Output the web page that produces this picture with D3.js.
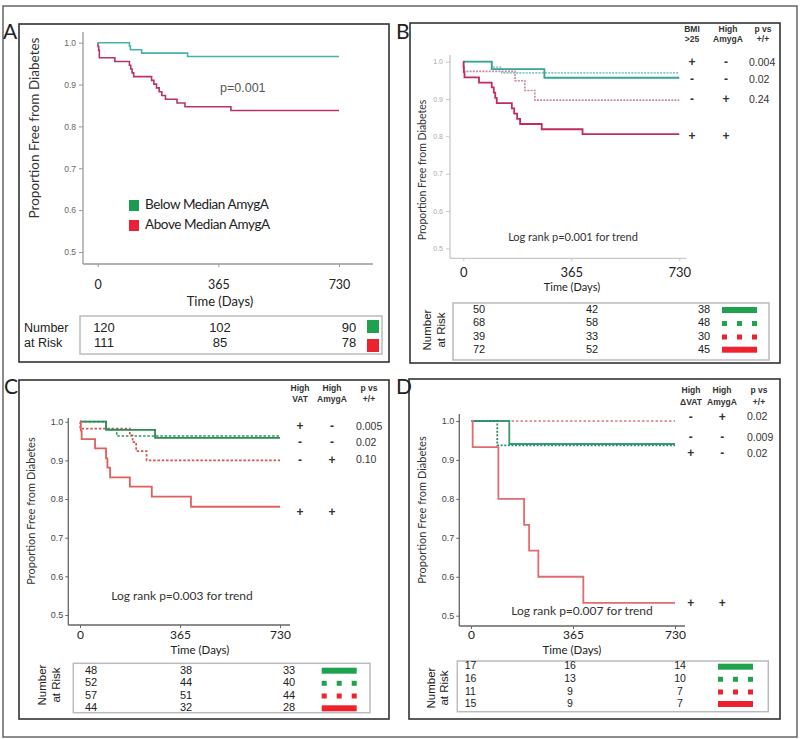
<!DOCTYPE html>
<html>
<head>
<meta charset="utf-8">
<script src="https://cdn.jsdelivr.net/npm/d3@7/dist/d3.min.js"></script>
<style>
  html, body { margin: 0; padding: 0; background: #fff; }
  svg { display: block; }
</style>
</head>
<body>
<script>
// ---------------- DATA ----------------
const timeTickValues = [0, 365, 730];
const survTickValues = [0.5, 0.6, 0.7, 0.8, 0.9, 1.0];

// Panel A
const aBelowDays = [0, 96, 99, 133, 272, 730];
const aBelowSurv = [1.0, 0.992, 0.983, 0.975, 0.967, 0.967];
const aAboveDays = [0, 1, 3, 5, 52, 96, 100, 104, 109, 163, 170, 178, 186, 194, 205, 240, 264, 403, 730];
const aAboveSurv = [1.0, 0.991, 0.982, 0.964, 0.955, 0.946, 0.937, 0.928, 0.919, 0.910, 0.901, 0.892, 0.883, 0.874, 0.865, 0.856, 0.847, 0.838, 0.838];
const aLegendLabels = ["Below Median AmygA", "Above Median AmygA"];
const aRiskBelow = [120, 102, 90];
const aRiskAbove = [111, 85, 78];
const aPText = "p=0.001";

// Panel B (BMI>25 / High AmygA)
const bHeaders = [["BMI", ">25"], ["High", "AmygA"], ["p vs", "+/+"]];
const bRows = [["+", "-", "0.004"], ["-", "-", "0.02"], ["-", "+", "0.24"], ["+", "+", ""]];
const bPosNegDays = [0, 96, 274, 730];
const bPosNegSurv = [1.0, 0.98, 0.957, 0.957];
const bNegNegDays = [0, 98, 130, 730];
const bNegNegSurv = [1.0, 0.985, 0.970, 0.970];
const bNegPosDays = [0, 1, 175, 208, 242, 730];
const bNegPosSurv = [1.0, 0.974, 0.949, 0.923, 0.897, 0.897];
const bPosPosDays = [0, 1, 2, 4, 53, 96, 103, 108, 113, 164, 172, 182, 192, 265, 403, 730];
const bPosPosSurv = [1.0, 0.986, 0.972, 0.958, 0.944, 0.931, 0.917, 0.903, 0.889, 0.875, 0.861, 0.847, 0.833, 0.819, 0.806, 0.806];
const bRisk = [[50, 42, 38], [68, 58, 48], [39, 33, 30], [72, 52, 45]];
const bLogRank = "Log rank p=0.001 for trend";

// Panel C (High VAT / High AmygA)
const cHeaders = [["High", "VAT"], ["High", "AmygA"], ["p vs", "+/+"]];
const cRows = [["+", "-", "0.005"], ["-", "-", "0.02"], ["-", "+", "0.10"], ["+", "+", ""]];
const cPosNegDays = [0, 95, 274, 730];
const cPosNegSurv = [1.0, 0.979, 0.958, 0.958];
const cNegNegDays = [0, 95, 134, 730];
const cNegNegSurv = [1.0, 0.981, 0.963, 0.963];
const cNegPosDays = [0, 1, 182, 192, 205, 243, 730];
const cNegPosSurv = [1.0, 0.982, 0.965, 0.947, 0.924, 0.900, 0.900];
const cPosPosDays = [0, 3, 6, 55, 95, 100, 110, 182, 262, 405, 730];
const cPosPosSurv = [1.0, 0.977, 0.955, 0.931, 0.905, 0.881, 0.856, 0.832, 0.806, 0.780, 0.780];
const cRisk = [[48, 38, 33], [52, 44, 40], [57, 51, 44], [44, 32, 28]];
const cLogRank = "Log rank p=0.003 for trend";

// Panel D (High ΔVAT / High AmygA)
const dHeaders = [["High", "\u0394VAT"], ["High", "AmygA"], ["p vs", "+/+"]];
const dRows = [["-", "+", "0.02"], ["-", "-", "0.009"], ["+", "-", "0.02"], ["+", "+", ""]];
const dNegPosDays = [0, 730];
const dNegPosSurv = [1.0, 1.0];
const dNegNegDays = [0, 137, 730];
const dNegNegSurv = [1.0, 0.941, 0.941];
const dPosNegDays = [0, 94, 730];
const dPosNegSurv = [1.0, 0.9375, 0.9375];
const dPosPosDays = [0, 6, 98, 190, 208, 241, 402, 730];
const dPosPosSurv = [1.0, 0.933, 0.800, 0.733, 0.667, 0.600, 0.533, 0.533];
const dRisk = [[17, 16, 14], [16, 13, 10], [11, 9, 7], [15, 9, 7]];
const dLogRank = "Log rank p=0.007 for trend";

const axisTitleX = "Time (Days)";
const axisTitleY = "Proportion Free from Diabetes";
const riskTitle = ["Number", "at Risk"];

// ---------------- DRAW ----------------
const SANS = "'Liberation Sans', Arial, sans-serif";
const CAL = "Lato, 'Open Sans', sans-serif";
const GREEN_ICON = "#1fa24e", RED_ICON = "#ee222c";

const svg = d3.select("body").append("svg").attr("width", 800).attr("height", 739);
svg.append("rect").attr("width", 800).attr("height", 739).attr("fill", "#fff");
svg.append("rect").attr("x", 3).attr("y", 6).attr("width", 794).attr("height", 731)
  .attr("fill", "none").attr("stroke", "#666").attr("stroke-width", 1.5);

function zip(days, surv) { return days.map((d, i) => [d, surv[i]]); }

function drawPanel(p) {
  const g = svg.append("g");
  g.append("rect").attr("x", p.frame[0]).attr("y", p.frame[1]).attr("width", p.frame[2]).attr("height", p.frame[3])
    .attr("fill", "none").attr("stroke", "#333").attr("stroke-width", 1.6);
  g.append("text").attr("x", p.letter[0]).attr("y", p.letter[1]).text(p.label)
    .attr("font-family", CAL).attr("font-size", 21).attr("fill", "#222");

  const x = d3.scaleLinear().domain([0, 730]).range([p.x0, p.x1]);
  const y = d3.scaleLinear().domain([0.5, 1.0]).range([p.yLo, p.yHi]);

  g.append("line").attr("x1", p.axX).attr("x2", p.axX).attr("y1", p.axTop).attr("y2", p.axY)
    .attr("stroke", p.axColor).attr("stroke-width", 1.3);
  g.append("line").attr("x1", p.axX).attr("x2", p.axRight).attr("y1", p.axY).attr("y2", p.axY)
    .attr("stroke", p.axColor).attr("stroke-width", 1.3);

  const ya = g.append("g").attr("transform", `translate(${p.axX},0)`)
    .call(d3.axisLeft(y).tickValues(survTickValues).tickFormat(d3.format(".1f")).tickSize(p.yTickSize).tickPadding(p.yTickPad));
  ya.select(".domain").remove();
  ya.selectAll("line").attr("stroke", p.axColor);
  ya.selectAll("text").attr("font-family", SANS).attr("font-size", p.yTickFont).attr("fill", p.yTickColor);

  const xa = g.append("g").attr("transform", `translate(0,${p.axY})`)
    .call(d3.axisBottom(x).tickValues(timeTickValues).tickSize(3).tickPadding(p.xTickPad));
  xa.select(".domain").remove();
  xa.selectAll("line").attr("stroke", p.axColor);
  xa.selectAll("text").attr("font-family", CAL).attr("font-size", p.xTickFont).attr("fill", "#222");

  g.append("text").attr("x", p.xTitle[0]).attr("y", p.xTitle[1]).attr("text-anchor", "middle")
    .attr("dominant-baseline", "middle").attr("font-family", CAL).attr("font-size", p.xTitleFont)
    .attr("fill", "#222").text(axisTitleX);
  g.append("text").attr("transform", `translate(${p.yTitle[0]},${p.yTitle[1]}) rotate(-90)`)
    .attr("text-anchor", "middle").attr("dominant-baseline", "middle").attr("font-family", CAL)
    .attr("font-size", p.yTitleFont).attr("fill", "#333").text(axisTitleY);

  const line = d3.line().x(d => x(d[0])).y(d => y(d[1])).curve(d3.curveStepAfter);
  p.series.forEach(s => {
    g.append("path").attr("d", line(s.data)).attr("fill", "none").attr("stroke", s.color)
      .attr("stroke-width", s.width).attr("stroke-dasharray", s.dash || null);
  });

  g.append("rect").attr("x", p.riskBox[0]).attr("y", p.riskBox[1]).attr("width", p.riskBox[2]).attr("height", p.riskBox[3])
    .attr("fill", "none").attr("stroke", "#bbb").attr("stroke-width", 1.5);
  p.risk.forEach((row, i) => {
    row.forEach((v, j) => {
      g.append("text").attr("x", p.riskCols[j]).attr("y", p.riskRows[i]).attr("text-anchor", "middle")
        .attr("dominant-baseline", "middle").attr("font-family", SANS).attr("font-size", p.riskFont)
        .attr("fill", "#222").text(v);
    });
  });
  return { g, x, y };
}

function drawHeader(g, p) {
  p.headers.forEach((h, j) => {
    h.forEach((t, k) => {
      g.append("text").attr("x", p.hCols[j]).attr("y", p.hRows[k]).attr("text-anchor", "middle")
        .attr("dominant-baseline", "middle").attr("font-family", SANS).attr("font-size", 8.5)
        .attr("font-weight", "bold").attr("fill", "#333").text(t);
    });
  });
  p.rows.forEach((r, i) => {
    [0, 1].forEach(j => {
      g.append("text").attr("x", p.sCols[j]).attr("y", p.sRows[i]).attr("text-anchor", "middle")
        .attr("dominant-baseline", "middle").attr("font-family", SANS).attr("font-size", 12)
        .attr("font-weight", "bold").attr("fill", "#333").text(r[j]);
    });
    if (r[2]) g.append("text").attr("x", p.pX).attr("y", p.sRows[i]).attr("dominant-baseline", "middle")
      .attr("font-family", SANS).attr("font-size", 10.5).attr("fill", "#333").text(r[2]);
  });
  riskTitle.forEach((t, k) => {
    g.append("text").attr("transform", `translate(${p.rtX[k]},${p.rtY}) rotate(-90)`)
      .attr("text-anchor", "middle").attr("dominant-baseline", "middle").attr("font-family", SANS)
      .attr("font-size", 11.5).attr("fill", "#222").text(t);
  });
  const types = ["solidG", "dashG", "dashR", "solidR"];
  types.forEach((t, i) => {
    const col = t.endsWith("G") ? GREEN_ICON : RED_ICON;
    const yy = p.riskRows[i];
    if (t.startsWith("solid")) {
      g.append("rect").attr("x", p.icon[0]).attr("y", yy - 3).attr("width", p.icon[1]).attr("height", 6).attr("fill", col);
    } else {
      [0, 1, 2].forEach(k => {
        g.append("rect").attr("x", p.icon[0] + k * (p.icon[1] - 5) / 2).attr("y", yy - 2.5)
          .attr("width", 5).attr("height", 5).attr("fill", col);
      });
    }
  });
  g.append("text").attr("x", p.logRank[0]).attr("y", p.logRank[1]).attr("text-anchor", "middle")
    .attr("dominant-baseline", "middle").attr("font-family", CAL).attr("font-size", p.logFont)
    .attr("fill", "#333").text(p.logText);
}

// ----- Panel A -----
const A = drawPanel({
  label: "A", letter: [3, 39], frame: [19, 24, 370, 338],
  x0: 97.7, x1: 339, yLo: 252, yHi: 42.7, axX: 83, axTop: 32, axY: 264, axRight: 373, axColor: "#999",
  yTickSize: 4, yTickPad: 3, yTickFont: 8.5, yTickColor: "#666", xTickPad: 13, xTickFont: 12.5,
  xTitle: [220, 303], xTitleFont: 13, yTitle: [36, 128], yTitleFont: 13.5,
  series: [
    { data: zip(aAboveDays, aAboveSurv), color: "#b8336a", width: 1.6 },
    { data: zip(aBelowDays, aBelowSurv), color: "#45b3a8", width: 1.6 }
  ],
  riskBox: [80, 316, 302, 38], risk: [aRiskBelow, aRiskAbove], riskCols: [104, 220, 349], riskRows: [329, 344], riskFont: 13
});
A.g.append("text").attr("x", 220).attr("y", 89).attr("dominant-baseline", "middle").attr("font-family", SANS)
  .attr("font-size", 12.5).attr("fill", "#555").text(aPText);
[["#1a9c50", 200], ["#e8203a", 220]].forEach((c, i) => {
  A.g.append("rect").attr("x", 129).attr("y", c[1]).attr("width", 10).attr("height", 11).attr("fill", c[0]);
  A.g.append("text").attr("x", 145).attr("y", c[1] + 6).attr("dominant-baseline", "middle").attr("font-family", CAL)
    .attr("font-size", 13.5).attr("letter-spacing", -0.4).attr("fill", "#222").text(aLegendLabels[i]);
});
A.g.append("text").attr("x", 24).attr("y", 329).attr("dominant-baseline", "middle").attr("font-family", SANS)
  .attr("font-size", 12.5).attr("fill", "#222").text(riskTitle[0]);
A.g.append("text").attr("x", 24).attr("y", 344).attr("dominant-baseline", "middle").attr("font-family", SANS)
  .attr("font-size", 12.5).attr("fill", "#222").text(riskTitle[1]);
[[367, 320, GREEN_ICON], [367, 339, RED_ICON]].forEach(s => {
  A.g.append("rect").attr("x", s[0]).attr("y", s[1]).attr("width", 12).attr("height", 13).attr("fill", s[2]);
});

// ----- Panel B -----
const pB = {
  label: "B", letter: [396, 39], frame: [410, 23, 370, 340],
  x0: 463.3, x1: 679.3, yLo: 248.3, yHi: 61.7, axX: 450, axTop: 55, axY: 258.3, axRight: 686, axColor: "#c8c8c8",
  yTickSize: 4, yTickPad: 3, yTickFont: 7, yTickColor: "#aaa", xTickPad: 6, xTickFont: 13,
  xTitle: [572, 288], xTitleFont: 11, yTitle: [423, 170], yTitleFont: 10.5,
  series: [
    { data: zip(bNegNegDays, bNegNegSurv), color: "#86c9c0", width: 1.6, dash: "2,1.2" },
    { data: zip(bNegPosDays, bNegPosSurv), color: "#c98aa0", width: 1.6, dash: "2,1.2" },
    { data: zip(bPosNegDays, bPosNegSurv), color: "#35a596", width: 1.8 },
    { data: zip(bPosPosDays, bPosPosSurv), color: "#c42a5e", width: 1.8 }
  ],
  riskBox: [453, 303, 316, 57], risk: bRisk, riskCols: [479, 592, 704], riskRows: [310, 323.5, 337, 349.7], riskFont: 11,
  headers: bHeaders, rows: bRows, hCols: [692, 728, 763], hRows: [30, 40], sCols: [692, 726], sRows: [63, 80, 100, 137], pX: 749,
  rtX: [428, 442], rtY: 330, icon: [722, 35], logRank: [573, 238], logFont: 11, logText: bLogRank
};
const B = drawPanel(pB); drawHeader(B.g, pB);

// ----- Panel C -----
const pC = {
  label: "C", letter: [4, 394], frame: [19, 380, 370, 339],
  x0: 80, x1: 280, yLo: 615, yHi: 421.7, axX: 68.3, axTop: 418, axY: 625, axRight: 290, axColor: "#666",
  yTickSize: 3, yTickPad: 2, yTickFont: 9, yTickColor: "#444", xTickPad: 2, xTickFont: 12,
  xTitle: [200, 651], xTitleFont: 11.5, yTitle: [32, 511], yTitleFont: 11,
  series: [
    { data: zip(cNegPosDays, cNegPosSurv), color: "#d9534f", width: 1.7, dash: "2.5,1.8" },
    { data: zip(cNegNegDays, cNegNegSurv), color: "#2f9a5c", width: 1.7, dash: "2.5,1.8" },
    { data: zip(cPosNegDays, cPosNegSurv), color: "#2e8a55", width: 1.8 },
    { data: zip(cPosPosDays, cPosPosSurv), color: "#e0605e", width: 1.8 }
  ],
  riskBox: [73.3, 663.3, 296.7, 49.4], risk: cRisk, riskCols: [91, 186, 289], riskRows: [670.7, 683.3, 696, 708.3], riskFont: 11,
  headers: cHeaders, rows: cRows, hCols: [300, 332, 369], hRows: [389, 400], sCols: [300, 332], sRows: [427, 443, 460.7, 512.7], pX: 356,
  rtX: [43, 57], rtY: 685, icon: [321.7, 35], logRank: [182, 597], logFont: 12, logText: cLogRank
};
const C = drawPanel(pC); drawHeader(C.g, pC);

// ----- Panel D -----
const pD = {
  label: "D", letter: [396, 394], frame: [409, 379, 371, 340],
  x0: 471, x1: 675, yLo: 615.7, yHi: 421, axX: 459.3, axTop: 414, axY: 626, axRight: 685, axColor: "#666",
  yTickSize: 3, yTickPad: 2, yTickFont: 9, yTickColor: "#444", xTickPad: 1.5, xTickFont: 12,
  xTitle: [572, 651], xTitleFont: 11.5, yTitle: [423, 510], yTitleFont: 11,
  series: [
    { data: zip(dNegPosDays, dNegPosSurv), color: "#e07a7e", width: 1.6, dash: "2.5,2" },
    { data: zip(dNegNegDays, dNegNegSurv), color: "#3a9a72", width: 1.8 },
    { data: zip(dPosNegDays, dPosNegSurv), color: "#2f8a6a", width: 1.8, dash: "2,1.6" },
    { data: zip(dPosPosDays, dPosPosSurv), color: "#e36a6e", width: 1.8 }
  ],
  riskBox: [457.3, 661, 311, 50.7], risk: dRisk, riskCols: [470.5, 570, 680], riskRows: [666.7, 679.3, 692, 704], riskFont: 10.5,
  headers: dHeaders, rows: dRows, hCols: [691, 722, 759], hRows: [390.7, 402.3], sCols: [690.7, 722.3], sRows: [417.7, 438.3, 454.3, 604.3], pX: 747,
  rtX: [432, 445], rtY: 688, icon: [718, 35], logRank: [582, 611.7], logFont: 12, logText: dLogRank
};
const D = drawPanel(pD); drawHeader(D.g, pD);
</script>
</body>
</html>
